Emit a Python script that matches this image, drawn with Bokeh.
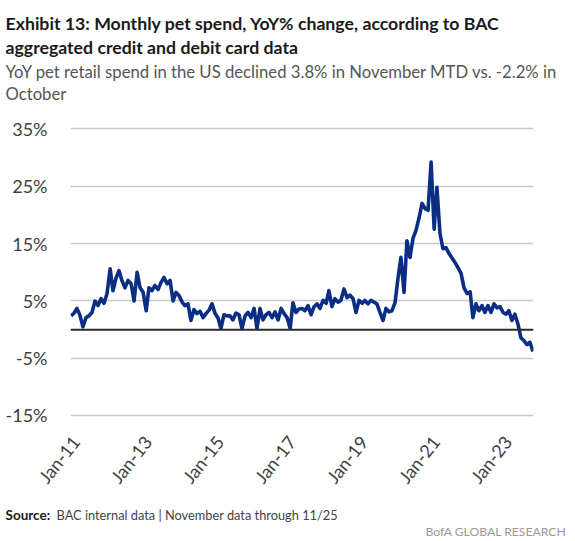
import pandas as pd
from bokeh.plotting import figure
from bokeh.layouts import column
from bokeh.models import Range1d, FixedTicker, Label, Span, ColumnDataSource
from bokeh.core.properties import value
from bokeh.embed import file_html
from bokeh.resources import INLINE

# Monthly YoY % change in pet spend, Jan-2011 .. Nov-2023
yoy = [
    2.4, 2.9, 3.7, 2.5, 0.5, 2.1, 2.4, 3.0, 5.0, 4.2, 5.4, 4.6,          # 2011
    6.3, 10.6, 6.8, 9.0, 10.3, 8.5, 7.3, 8.6, 8.0, 5.0, 10.0, 7.3,       # 2012
    6.5, 3.3, 7.3, 6.8, 7.7, 7.0, 8.2, 9.1, 8.0, 8.6, 5.0, 6.5,          # 2013
    5.9, 4.8, 4.2, 4.5, 1.6, 3.5, 2.8, 3.2, 2.1, 2.8, 3.4, 4.5,          # 2014
    2.8, 2.0, 0.2, 2.6, 2.4, 2.4, 1.7, 2.9, 2.6, 0.2, 2.4, 3.0,          # 2015
    2.1, 3.7, 0.2, 3.7, 1.7, 2.6, 3.0, 2.1, 3.1, 1.7, 3.7, 2.8,          # 2016
    2.1, 0.2, 4.7, 3.0, 3.6, 3.7, 3.3, 4.2, 2.6, 4.0, 4.5, 3.7,          # 2017
    5.1, 4.6, 6.8, 4.0, 5.4, 4.8, 5.1, 7.1, 5.6, 6.0, 5.4, 3.0,          # 2018
    5.1, 4.6, 5.1, 4.5, 5.1, 4.8, 4.5, 3.0, 1.6, 3.7, 3.1, 3.3,          # 2019
    4.7, 9.1, 12.6, 6.5, 15.5, 12.6, 15.9, 17.3, 19.5, 22.0, 21.1, 20.8, # 2020
    29.2, 17.5, 24.8, 16.8, 14.1, 14.3, 13.3, 12.5, 11.7, 10.8, 9.8, 7.3, # 2021
    6.3, 6.6, 2.1, 4.5, 3.3, 4.2, 3.0, 4.2, 3.0, 4.5, 3.8, 4.0,          # 2022
    3.0, 2.7, 3.3, 1.6, 2.7, 1.0, -1.4, -1.9, -2.6, -2.2, -3.8,          # 2023
]
dates = pd.date_range("2011-01-01", periods=len(yoy), freq="MS")

y_ticks = [-15, -5, 5, 15, 25, 35]
y_labels = ["-15%", "-5%", "5%", "15%", "25%", "35%"]
x_tick_dates = ["2011-01-01", "2013-01-01", "2015-01-01", "2017-01-01",
                "2019-01-01", "2021-01-01", "2023-01-01"]
x_labels = ["Jan-11", "Jan-13", "Jan-15", "Jan-17", "Jan-19", "Jan-21", "Jan-23"]

FONT = "Lato"
W = 575
LEFT, RIGHT = 70, 42          # plot-frame borders (px)
FRAME_W = W - LEFT - RIGHT


def ms(d):
    return pd.Timestamp(d).value / 1e6


def no_align(f):
    try:
        f.frame_align = False
    except AttributeError:
        pass


def text_panel(h, x_range=None):
    f = figure(width=W, height=h,
               x_range=x_range if x_range is not None else Range1d(0, W),
               y_range=Range1d(h, 0),
               output_backend="svg", toolbar_location=None,
               x_axis_location=None, y_axis_location=None,
               min_border_left=0, min_border_right=0,
               min_border_top=0, min_border_bottom=0)
    f.outline_line_color = None
    f.xgrid.grid_line_color = None
    f.ygrid.grid_line_color = None
    no_align(f)
    return f


def lab(f, text, x, y, size, color, style="normal", align="left"):
    f.add_layout(Label(x=x, y=y, text=text, text_font=FONT, text_font_size=size,
                       text_color=color, text_font_style=style, text_align=align,
                       text_baseline="alphabetic"))


# ---- header ----
head = text_panel(108)
lab(head, "Exhibit 13: Monthly pet spend, YoY% change, according to BAC", 5, 23, "17.7px", "#1a1a1a", "bold")
lab(head, "aggregated credit and debit card data", 5, 47, "17.7px", "#1a1a1a", "bold")
lab(head, "YoY pet retail spend in the US declined 3.8% in November MTD vs. -2.2% in", 5, 71, "16.7px", "#555555")
lab(head, "October", 5, 93, "16.7px", "#555555")

# ---- main chart ----
x0, x1 = ms("2010-12-26"), ms("2023-11-06")
p = figure(width=W, height=317, x_axis_type="datetime",
           x_axis_location=None,
           output_backend="svg", toolbar_location=None,
           min_border_left=LEFT, min_border_right=RIGHT,
           min_border_top=10, min_border_bottom=0)
no_align(p)
p.outline_line_color = None
p.x_range = Range1d(x0, x1)
p.y_range = Range1d(-16.7, 36.8)

p.xgrid.grid_line_color = None
p.ygrid.ticker = FixedTicker(ticks=y_ticks)
p.ygrid.grid_line_color = "#c8c8c8"
p.ygrid.grid_line_width = 1.6

p.yaxis.ticker = FixedTicker(ticks=y_ticks)
p.yaxis.major_label_overrides = {t: l for t, l in zip(y_ticks, y_labels)}
p.yaxis.axis_line_color = None
p.yaxis.major_tick_line_color = None
p.yaxis.minor_tick_line_color = None
p.yaxis.major_label_text_font = FONT
p.yaxis.major_label_text_font_size = "18px"
p.yaxis.major_label_text_color = "#404040"
p.yaxis.major_label_standoff = 17

p.add_layout(Span(location=0, dimension="width", line_color="#2b2b2b", line_width=2))
p.line(dates, yoy, line_color="#0b2d83", line_width=3.6, line_join="round")

# ---- x tick-label strip (same time scale as the chart, extended to the canvas) ----
k = (x1 - x0) / FRAME_W
strip = text_panel(70, x_range=Range1d(x0 - LEFT * k, x1 + RIGHT * k))
xt = [ms(d) for d in x_tick_dates]
src = ColumnDataSource(dict(x=xt, y=[6] * len(xt), t=x_labels))
strip.text(x="x", y="y", text="t", source=src, angle=0.9, x_offset=-4,
           text_align="right", text_baseline="top",
           text_font=value(FONT), text_font_size="18px", text_color="#404040")

# ---- footer ----
foot = text_panel(44)
lab(foot, "Source:", 5, 19, "13.5px", "#1a1a1a", "bold")
lab(foot, "BAC internal data | November data through 11/25", 56, 19, "12.8px", "#444444")
lab(foot, "BofA GLOBAL RESEARCH", 566, 36, "12.2px", "#999999", align="right")

layout = column(head, p, strip, foot, spacing=0)
open("out.html", "w").write(file_html(layout, INLINE))
